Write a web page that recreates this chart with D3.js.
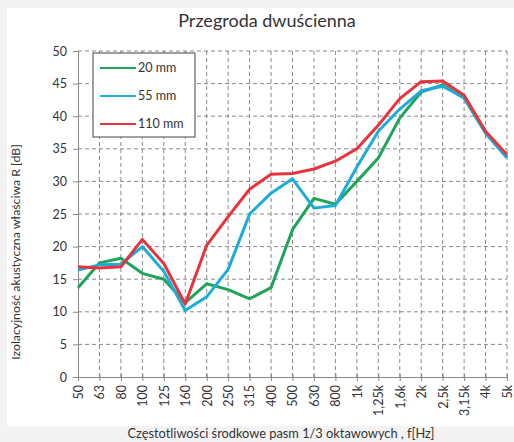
<!DOCTYPE html>
<html>
<head>
<meta charset="utf-8">
<script src="https://cdn.jsdelivr.net/npm/d3@7"></script>
<style>
  body { margin: 0; background: #f3f3f3; }
  svg { display: block; }
  text { font-family: Lato, "Open Sans", sans-serif; fill: #333; }
</style>
</head>
<body>
<div id="chart"></div>
<script>
var categories = ["50", "63", "80", "100", "125", "160", "200", "250", "315", "400", "500",
  "630", "800", "1k", "1,25k", "1,6k", "2k", "2,5k", "3,15k", "4k", "5k"];
var yTicks = [0, 5, 10, 15, 20, 25, 30, 35, 40, 45, 50];

var r20 = [13.7, 17.5, 18.2, 15.9, 15.0, 11.4, 14.3, 13.4, 12.0, 13.7, 22.6,
  27.4, 26.5, 30.0, 33.6, 39.7, 43.7, 44.8, 42.8, 37.5, 33.8];
var r55 = [16.4, 17.2, 17.3, 20.0, 16.2, 10.2, 12.3, 16.5, 25.0, 28.2, 30.4,
  25.9, 26.3, 32.2, 37.7, 41.1, 43.9, 44.6, 42.8, 37.4, 33.6];
var r110 = [16.9, 16.7, 16.9, 21.1, 17.4, 11.2, 20.2, 24.6, 28.8, 31.1, 31.2,
  31.9, 33.1, 35.0, 38.6, 42.7, 45.3, 45.4, 43.2, 37.7, 34.1];

var seriesNames = ["20 mm", "55 mm", "110 mm"];
var seriesColors = ["#20a35a", "#1badda", "#e6343c"];
var seriesData = [r20, r55, r110];

var W = 514, H = 442;
var svg = d3.select("#chart").append("svg").attr("width", W).attr("height", H);

// white panel
svg.append("rect").attr("x", 7).attr("y", 8).attr("width", W - 7).attr("height", 418)
  .attr("fill", "#fff");

var x = d3.scalePoint().domain(categories).range([78, 507]);
var y = d3.scaleLinear().domain([0, 50]).range([377, 51]);

// grid
svg.append("g").selectAll("line").data(yTicks.slice(1)).enter().append("line")
  .attr("x1", 78).attr("x2", 507)
  .attr("y1", function(d) { return y(d); }).attr("y2", function(d) { return y(d); })
  .attr("stroke", "#888").attr("stroke-dasharray", "4,3");
svg.append("g").selectAll("line").data(categories.slice(1)).enter().append("line")
  .attr("x1", function(d) { return x(d); }).attr("x2", function(d) { return x(d); })
  .attr("y1", y(50)).attr("y2", y(0))
  .attr("stroke", "#888").attr("stroke-dasharray", "4,3");

// axes
var yAxis = svg.append("g").attr("transform", "translate(78,0)")
  .call(d3.axisLeft(y).tickValues(yTicks).tickSize(5).tickPadding(6));
yAxis.selectAll("text").style("font-size", "12.5px");

var xAxis = svg.append("g").attr("transform", "translate(0," + y(0) + ")")
  .call(d3.axisBottom(x).tickSize(4).tickSizeOuter(0));
xAxis.selectAll(".tick line").attr("y1", -3);
xAxis.selectAll("text")
  .style("font-size", "12.5px")
  .attr("text-anchor", "end")
  .attr("transform", "rotate(-90)")
  .attr("x", -8).attr("y", 0).attr("dy", "0.35em");

svg.selectAll(".domain, .tick line").attr("stroke", "#888");
svg.selectAll(".tick text").attr("fill", "#333");

// lines
var line = d3.line()
  .x(function(d, i) { return x(categories[i]); })
  .y(function(d) { return y(d); });

seriesData.forEach(function(s, k) {
  svg.append("path").datum(s)
    .attr("fill", "none")
    .attr("stroke", seriesColors[k])
    .attr("stroke-width", 3)
    .attr("stroke-linejoin", "round")
    .attr("d", line);
});

// legend
var lg = svg.append("g");
lg.append("rect").attr("x", 93).attr("y", 53).attr("width", 102).attr("height", 84)
  .attr("fill", "#fff").attr("stroke", "#444").attr("stroke-width", 1);
seriesNames.forEach(function(n, k) {
  var ly = 68 + k * 28;
  lg.append("line").attr("x1", 100).attr("x2", 136).attr("y1", ly).attr("y2", ly)
    .attr("stroke", seriesColors[k]).attr("stroke-width", 2);
  lg.append("text").attr("x", 138).attr("y", ly).attr("dy", "0.35em")
    .style("font-size", "12.5px").text(n);
});

// titles
svg.append("text").attr("x", 267).attr("y", 27).attr("text-anchor", "middle")
  .style("font-size", "18px").text("Przegroda dwuścienna");
svg.append("text").attr("x", 281).attr("y", 438).attr("text-anchor", "middle")
  .style("font-size", "12.8px").text("Częstotliwości środkowe pasm 1/3 oktawowych , f[Hz]");
svg.append("text").attr("transform", "translate(20,252) rotate(-90)")
  .attr("text-anchor", "middle")
  .style("font-size", "12.3px").text("Izolacyjność akustyczna właściwa R [dB]");
</script>
</body>
</html>
